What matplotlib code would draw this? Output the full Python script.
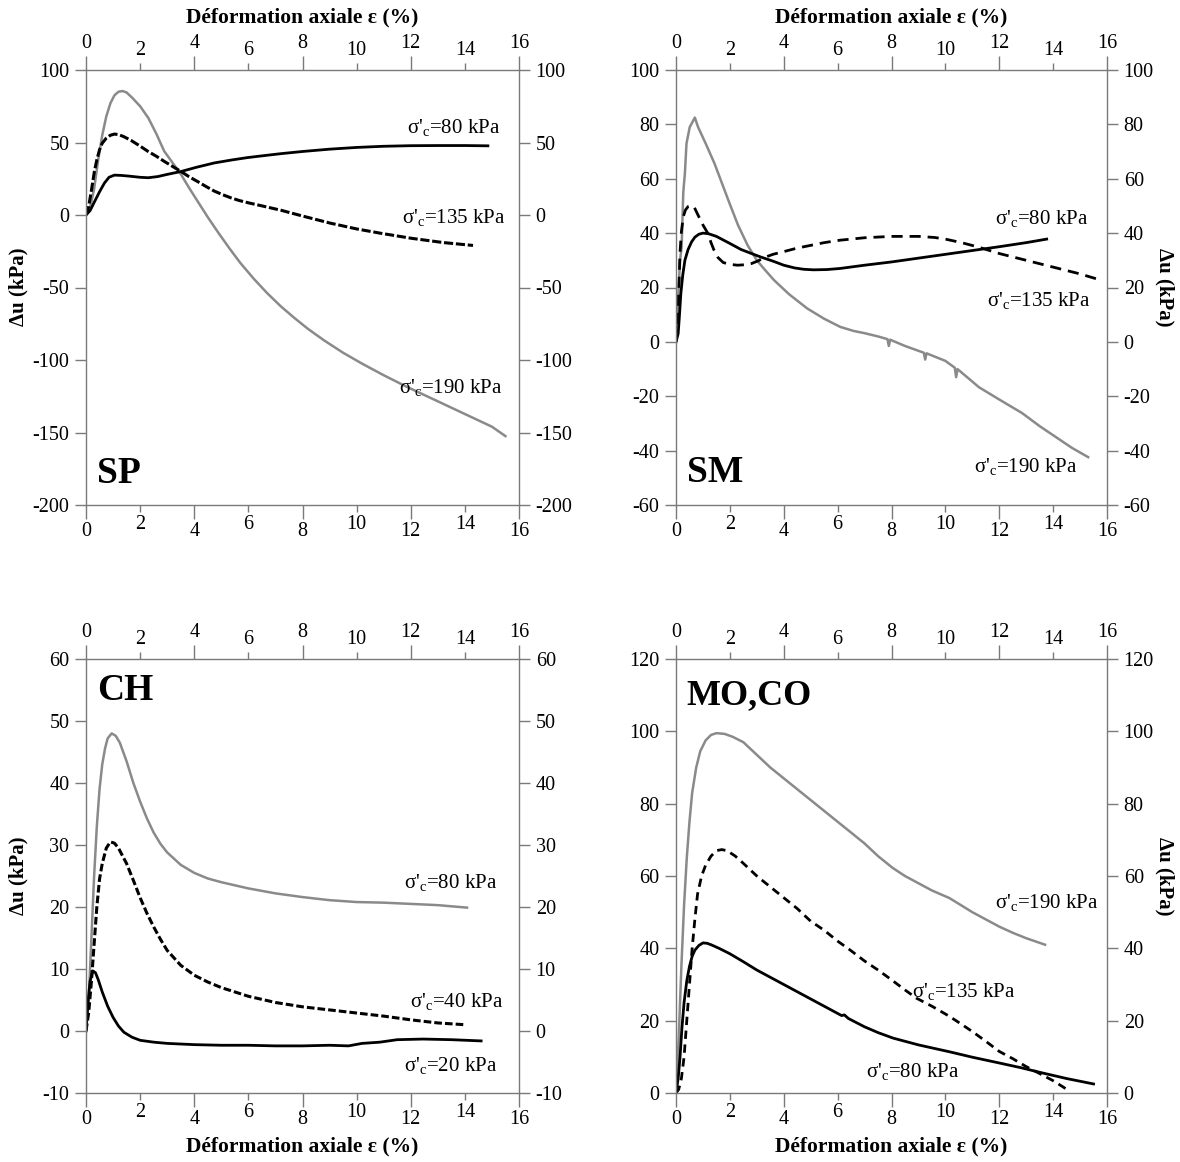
import matplotlib
matplotlib.use("Agg")
import matplotlib.pyplot as plt

plt.rcParams['font.family'] = ['Liberation Serif', 'DejaVu Serif']
plt.rcParams['mathtext.fontset'] = 'custom'
plt.rcParams['mathtext.rm'] = 'Liberation Serif'
plt.rcParams['mathtext.it'] = 'Liberation Serif:italic'
plt.rcParams['mathtext.bf'] = 'Liberation Serif:bold'

# ---------------- data ----------------
# SP panel
sp80_x = [0, 0.15, 0.31, 0.5, 0.68, 0.85, 1.05, 1.3, 1.6, 2.0, 2.3, 2.65, 3.0, 3.51, 4.1, 4.74, 5.4, 5.97, 6.6, 7.2, 8, 9, 10, 11, 12, 13, 14, 14.85]
sp80_y = [0, 3, 9, 16, 22, 26, 27.5, 27.3, 26.8, 26, 25.7, 26.5, 28, 30, 33, 35.9, 38, 39.6, 41, 42.3, 43.8, 45.4, 46.6, 47.4, 47.8, 47.9, 47.9, 47.7]
sp135_x = [0, 0.1, 0.2, 0.31, 0.4, 0.5, 0.6, 0.75, 0.9, 1.05, 1.2, 1.4, 1.66, 2.0, 2.28, 2.6, 2.89, 3.2, 3.51, 3.8, 4.13, 4.45, 4.74, 5.05, 5.36, 5.66, 6.0, 6.5, 7.2, 8, 9, 10, 10.86, 12, 13.2, 14.3]
sp135_y = [0, 6, 17, 30, 38, 45, 49.5, 53, 55, 55.8, 55.5, 54, 51.5, 47.5, 44, 40.5, 37, 33.5, 30, 26.5, 23, 19.5, 16.5, 14, 11.8, 10, 8.4, 6.3, 3.3, -0.7, -5.5, -9.6, -12.5, -16, -19, -21]
sp190_x = [0, 0.15, 0.3, 0.45, 0.6, 0.75, 0.9, 1.05, 1.2, 1.35, 1.5, 1.7, 2.0, 2.3, 2.6, 2.89, 3.2, 3.51, 3.8, 4.13, 4.5, 4.9, 5.3, 5.7, 6.2, 6.7, 7.2, 7.7, 8.2, 8.8, 9.5, 10.2, 11, 11.8, 12.6, 13.4, 14.2, 15, 15.5]
sp190_y = [0, 5, 18, 38, 55, 68, 77, 82.5, 85, 85.5, 84.5, 81, 75, 67, 56, 44, 36, 28, 19, 9.3, -1.5, -12.5, -23, -33, -44, -54, -63, -71, -78.5, -86.5, -95, -102.5, -110.5, -118, -125, -132, -139, -146, -152.5]

# SM panel
sm80_x = [0, 0.08, 0.13, 0.18, 0.25, 0.33, 0.45, 0.58, 0.7, 0.85, 1.0, 1.2, 1.5, 2.0, 2.41, 2.8, 3.15, 3.6, 4.0, 4.4, 4.74, 5.1, 5.6, 6.09, 7, 8, 9, 10, 11, 12, 13, 13.76]
sm80_y = [0, 3, 10, 17.8, 24.5, 30, 34, 36.8, 38.5, 39.6, 40, 39.8, 38.8, 36.2, 34, 32.5, 31.2, 29.7, 28.2, 27.2, 26.7, 26.5, 26.6, 27, 28.2, 29.4, 30.8, 32.2, 33.6, 35, 36.5, 37.8]
sm135_x = [0, 0.06, 0.1, 0.15, 0.2, 0.27, 0.35, 0.45, 0.58, 0.68, 0.8, 0.9, 1.0, 1.19, 1.3, 1.4, 1.56, 1.75, 2.0, 2.29, 2.6, 2.8, 3.05, 3.27, 3.6, 4, 4.5, 5, 5.5, 6.09, 7, 8, 9, 9.6, 10, 10.6, 11.25, 12, 13, 14, 15, 15.67]
sm135_y = [0, 5, 18, 33, 40.5, 46, 48.5, 49.8, 50.2, 49.5, 47, 45, 43, 39.8, 36.5, 34, 31, 29.2, 28.5, 28.2, 28.4, 28.8, 29.8, 31, 32.2, 33.2, 34.5, 35.5, 36.5, 37.4, 38.3, 38.8, 38.8, 38.4, 37.8, 36.5, 34.8, 32.5, 30, 27.5, 25, 23]
sm190_x = [0, 0.09, 0.15, 0.21, 0.27, 0.33, 0.39, 0.51, 0.7, 0.82, 1.1, 1.43, 1.7, 1.99, 2.3, 2.66, 3.0, 3.3, 3.64, 4.2, 4.87, 5.5, 6.1, 6.6, 7, 7.5, 7.85, 7.9, 7.95, 8.5, 9.2, 9.25, 9.3, 10, 10.35, 10.4, 10.45, 11.25, 12.0, 12.85, 13.5, 14.1, 14.7, 15.3]
sm190_y = [0, 18, 30, 35, 55, 62, 73, 79, 82.5, 79, 73, 65.6, 58.5, 50.9, 43, 35.5, 30, 26.5, 22.7, 17.5, 12.3, 8.5, 5.5, 4, 3.2, 2, 1, -1.5, 0.8, -1.5, -4, -6.5, -4.2, -7, -9.5, -13, -10, -16.7, -21.2, -26.2, -31, -35, -39, -42.4]

# CH panel
ch80_x = [0, 0.1, 0.2, 0.3, 0.4, 0.5, 0.6, 0.7, 0.8, 0.95, 1.1, 1.25, 1.5, 1.75, 2, 2.25, 2.5, 2.75, 3, 3.5, 4, 4.5, 5, 6, 7, 8, 9, 10, 11, 12, 13, 14.08]
ch80_y = [0, 5, 15, 25, 33, 39, 43, 45.5, 47.2, 48, 47.6, 46.5, 43.5, 40, 37, 34.3, 32, 30.2, 28.8, 26.8, 25.5, 24.6, 24, 23, 22.2, 21.6, 21.1, 20.8, 20.7, 20.5, 20.3, 19.9]
ch40_x = [0, 0.1, 0.2, 0.3, 0.4, 0.5, 0.6, 0.75, 0.9, 1.05, 1.2, 1.5, 1.75, 2, 2.25, 2.5, 2.75, 3, 3.5, 4, 4.5, 5, 6, 7, 8, 9, 10, 11, 12, 13, 14.04]
ch40_y = [0, 3, 8, 14, 20, 24.5, 27, 29.5, 30.5, 30.3, 29.5, 27, 24.3, 21.5, 19, 16.8, 14.8, 13, 10.6, 9, 7.9, 7, 5.6, 4.6, 3.9, 3.4, 2.9, 2.4, 1.8, 1.3, 1.0]
ch20_x = [0, 0.08, 0.15, 0.25, 0.35, 0.45, 0.6, 0.8, 1, 1.2, 1.4, 1.7, 2, 2.5, 3, 4, 5, 6, 7, 8, 9, 9.7, 10.2, 10.86, 11.5, 12.45, 13.5, 14.6]
ch20_y = [0, 5, 8, 9.7, 9.4, 8.3, 6.3, 4, 2.2, 0.8, -0.2, -1, -1.5, -1.8, -2, -2.2, -2.3, -2.3, -2.4, -2.4, -2.3, -2.4, -2.0, -1.8, -1.4, -1.3, -1.4, -1.6]

# MO,CO panel
mo80_x = [0, 0.08, 0.15, 0.22, 0.3, 0.4, 0.5, 0.6, 0.7, 0.85, 1, 1.15, 1.3, 1.6, 2, 2.5, 3, 3.5, 4, 4.5, 5, 5.5, 6, 6.15, 6.25, 6.4, 7, 7.5, 8.05, 9, 10.15, 11, 12, 12.8, 13.57, 14.5, 15.5]
mo80_y = [0, 4, 10, 18, 25, 31, 35, 37.8, 39.5, 40.8, 41.5, 41.4, 41, 40, 38.5, 36.3, 34, 32, 30, 28, 26, 24, 22, 21.4, 21.6, 20.6, 18.3, 16.7, 15.2, 13.3, 11.4, 9.9, 8.3, 7, 5.6, 4, 2.5]
mo135_x = [0, 0.1, 0.2, 0.3, 0.4, 0.5, 0.6, 0.7, 0.8, 0.95, 1.1, 1.3, 1.5, 1.7, 1.9, 2.2, 2.5, 3, 3.5, 4, 4.5, 5, 5.5, 6, 6.47, 7, 7.5, 8, 8.5, 8.93, 9.5, 10.15, 10.6, 11, 11.5, 12, 12.5, 13, 13.57, 14, 14.3, 14.55]
mo135_y = [0, 1, 4, 10, 20, 30, 40, 48, 55, 60, 63, 65.5, 67, 67.3, 67, 65.5, 63.5, 60, 57, 54, 51, 47.5, 45, 42, 39.5, 36.5, 34, 31.3, 28.5, 26.2, 24, 21.2, 19, 17, 14.3, 11.5, 9.5, 7.3, 5.1, 3.4, 2, 0.8]
mo190_x = [0, 0.1, 0.2, 0.3, 0.4, 0.5, 0.6, 0.75, 0.9, 1.1, 1.3, 1.5, 1.8, 2.1, 2.5, 3, 3.5, 4, 4.5, 5, 5.5, 6, 6.5, 7, 7.5, 8.05, 8.5, 9, 9.5, 10.15, 11, 11.5, 12, 12.5, 13, 13.7]
mo190_y = [0, 15, 35, 52, 65, 75, 83, 90, 94.5, 97.5, 99, 99.5, 99.3, 98.5, 97, 93.5, 90, 87, 84, 81, 78, 75, 72, 69, 65.5, 62.2, 60, 58, 56, 53.9, 50, 48, 46, 44.3, 42.8, 41]

x_major = [0, 4, 8, 12, 16]
x_minor = [2, 6, 10, 14]

GRAY = '#8a8a8a'
SPINE = '#7a7a7a'
BLACK = '#000000'

fig = plt.figure(figsize=(11.8, 11.62), dpi=100)
W, H = 1180.0, 1162.0


def make_ax(x0, x1, ytop, ybot):
    return fig.add_axes([x0 / W, 1 - ybot / H, (x1 - x0) / W, (ybot - ytop) / H])


def style(ax, ylim, yticks):
    ax.set_xlim(0, 16)
    ax.set_ylim(*ylim)
    ax.set_xticks(x_major)
    ax.set_xticks(x_minor, minor=True)
    ax.set_xticklabels([str(v) for v in x_major])
    ax.set_xticklabels([str(v) for v in x_minor], minor=True)
    ax.set_yticks(yticks)
    ax.set_yticklabels([str(v) for v in yticks])
    ax.tick_params(axis='x', which='both', top=True, bottom=True, labeltop=True, labelbottom=True,
                   direction='out', color=SPINE, width=1.0, labelsize=14.5, pad=2.5)
    ax.tick_params(axis='x', which='major', length=10)
    ax.tick_params(axis='x', which='minor', length=5)
    ax.tick_params(axis='y', which='both', left=True, right=True, labelleft=True, labelright=True,
                   direction='out', color=SPINE, width=1.0, length=8, labelsize=14.5, pad=4)
    for s in ax.spines.values():
        s.set_color(SPINE)
        s.set_linewidth(1.0)
    ax.set_facecolor('none')


def lab(ax, x, y, val, ha='right'):
    ax.text(x, y, "σ'$_{\\mathrm{c}}$=" + val + " kPa", ha=ha, va='center', fontsize=15)


# ---- SP ----
ax1 = make_ax(86, 519, 70, 505)
style(ax1, (-200, 100), [100, 50, 0, -50, -100, -150, -200])
ax1.plot(sp190_x, sp190_y, color=GRAY, lw=1.8)
ax1.plot(sp80_x, sp80_y, color=BLACK, lw=2.0)
ax1.plot(sp135_x, sp135_y, color=BLACK, lw=2.2, ls=(0, (3, 0.9)))
lab(ax1, 15.3, 60, '80')
lab(ax1, 15.5, -2, '135')
lab(ax1, 15.4, -119, '190')
ax1.text(0.4, -178, 'SP', fontsize=27, fontweight='bold', va='center', ha='left')

# ---- SM ----
ax2 = make_ax(676, 1107, 70, 505)
style(ax2, (-60, 100), [100, 80, 60, 40, 20, 0, -20, -40, -60])
ax2.plot(sm190_x, sm190_y, color=GRAY, lw=1.8)
ax2.plot(sm80_x, sm80_y, color=BLACK, lw=2.0)
ax2.plot(sm135_x, sm135_y, color=BLACK, lw=2.0, ls=(0, (4, 2.5)))
lab(ax2, 15.3, 45.5, '80')
lab(ax2, 15.4, 15.3, '135')
lab(ax2, 14.9, -46, '190')
ax2.text(0.4, -48, 'SM', fontsize=27, fontweight='bold', va='center', ha='left')

# ---- CH ----
ax3 = make_ax(86, 519, 659, 1093)
style(ax3, (-10, 60), [60, 50, 40, 30, 20, 10, 0, -10])
ax3.plot(ch80_x, ch80_y, color=GRAY, lw=1.8)
ax3.plot(ch20_x, ch20_y, color=BLACK, lw=2.0)
ax3.plot(ch40_x, ch40_y, color=BLACK, lw=2.2, ls=(0, (2.5, 1.0)))
lab(ax3, 15.2, 23.9, '80')
lab(ax3, 15.4, 4.7, '40')
lab(ax3, 15.2, -5.5, '20')
ax3.text(0.4, 55, 'CH', fontsize=27, fontweight='bold', va='center', ha='left')

# ---- MO,CO ----
ax4 = make_ax(676, 1107, 659, 1093)
style(ax4, (0, 120), [120, 100, 80, 60, 40, 20, 0])
ax4.plot(mo190_x, mo190_y, color=GRAY, lw=1.8)
ax4.plot(mo80_x, mo80_y, color=BLACK, lw=2.0)
ax4.plot(mo135_x, mo135_y, color=BLACK, lw=2.0, ls=(0, (3, 2)))
lab(ax4, 15.7, 52.6, '190')
lab(ax4, 12.6, 28, '135')
lab(ax4, 10.5, 5.9, '80')
ax4.text(0.4, 110, 'MO,CO', fontsize=26, fontweight='bold', va='center', ha='left')

# axis titles
xt = 'Déformation axiale ε (%)'
for xc in ((86 + 519) / 2, (676 + 1107) / 2):
    fig.text(xc / W, 1 - 17 / H, xt, ha='center', va='center', fontsize=15.5, fontweight='bold')
    fig.text(xc / W, 1 - 1146 / H, xt, ha='center', va='center', fontsize=15.5, fontweight='bold')
fig.text(18 / W, 1 - 287 / H, 'Δu (kPa)', rotation=90, ha='center', va='center', fontsize=15, fontweight='bold')
fig.text(18 / W, 1 - 876 / H, 'Δu (kPa)', rotation=90, ha='center', va='center', fontsize=15, fontweight='bold')
fig.text(1165 / W, 1 - 287 / H, 'Δu (kPa)', rotation=270, ha='center', va='center', fontsize=15, fontweight='bold')
fig.text(1165 / W, 1 - 876 / H, 'Δu (kPa)', rotation=270, ha='center', va='center', fontsize=15, fontweight='bold')

fig.savefig('out.png', dpi=100, facecolor='white')
